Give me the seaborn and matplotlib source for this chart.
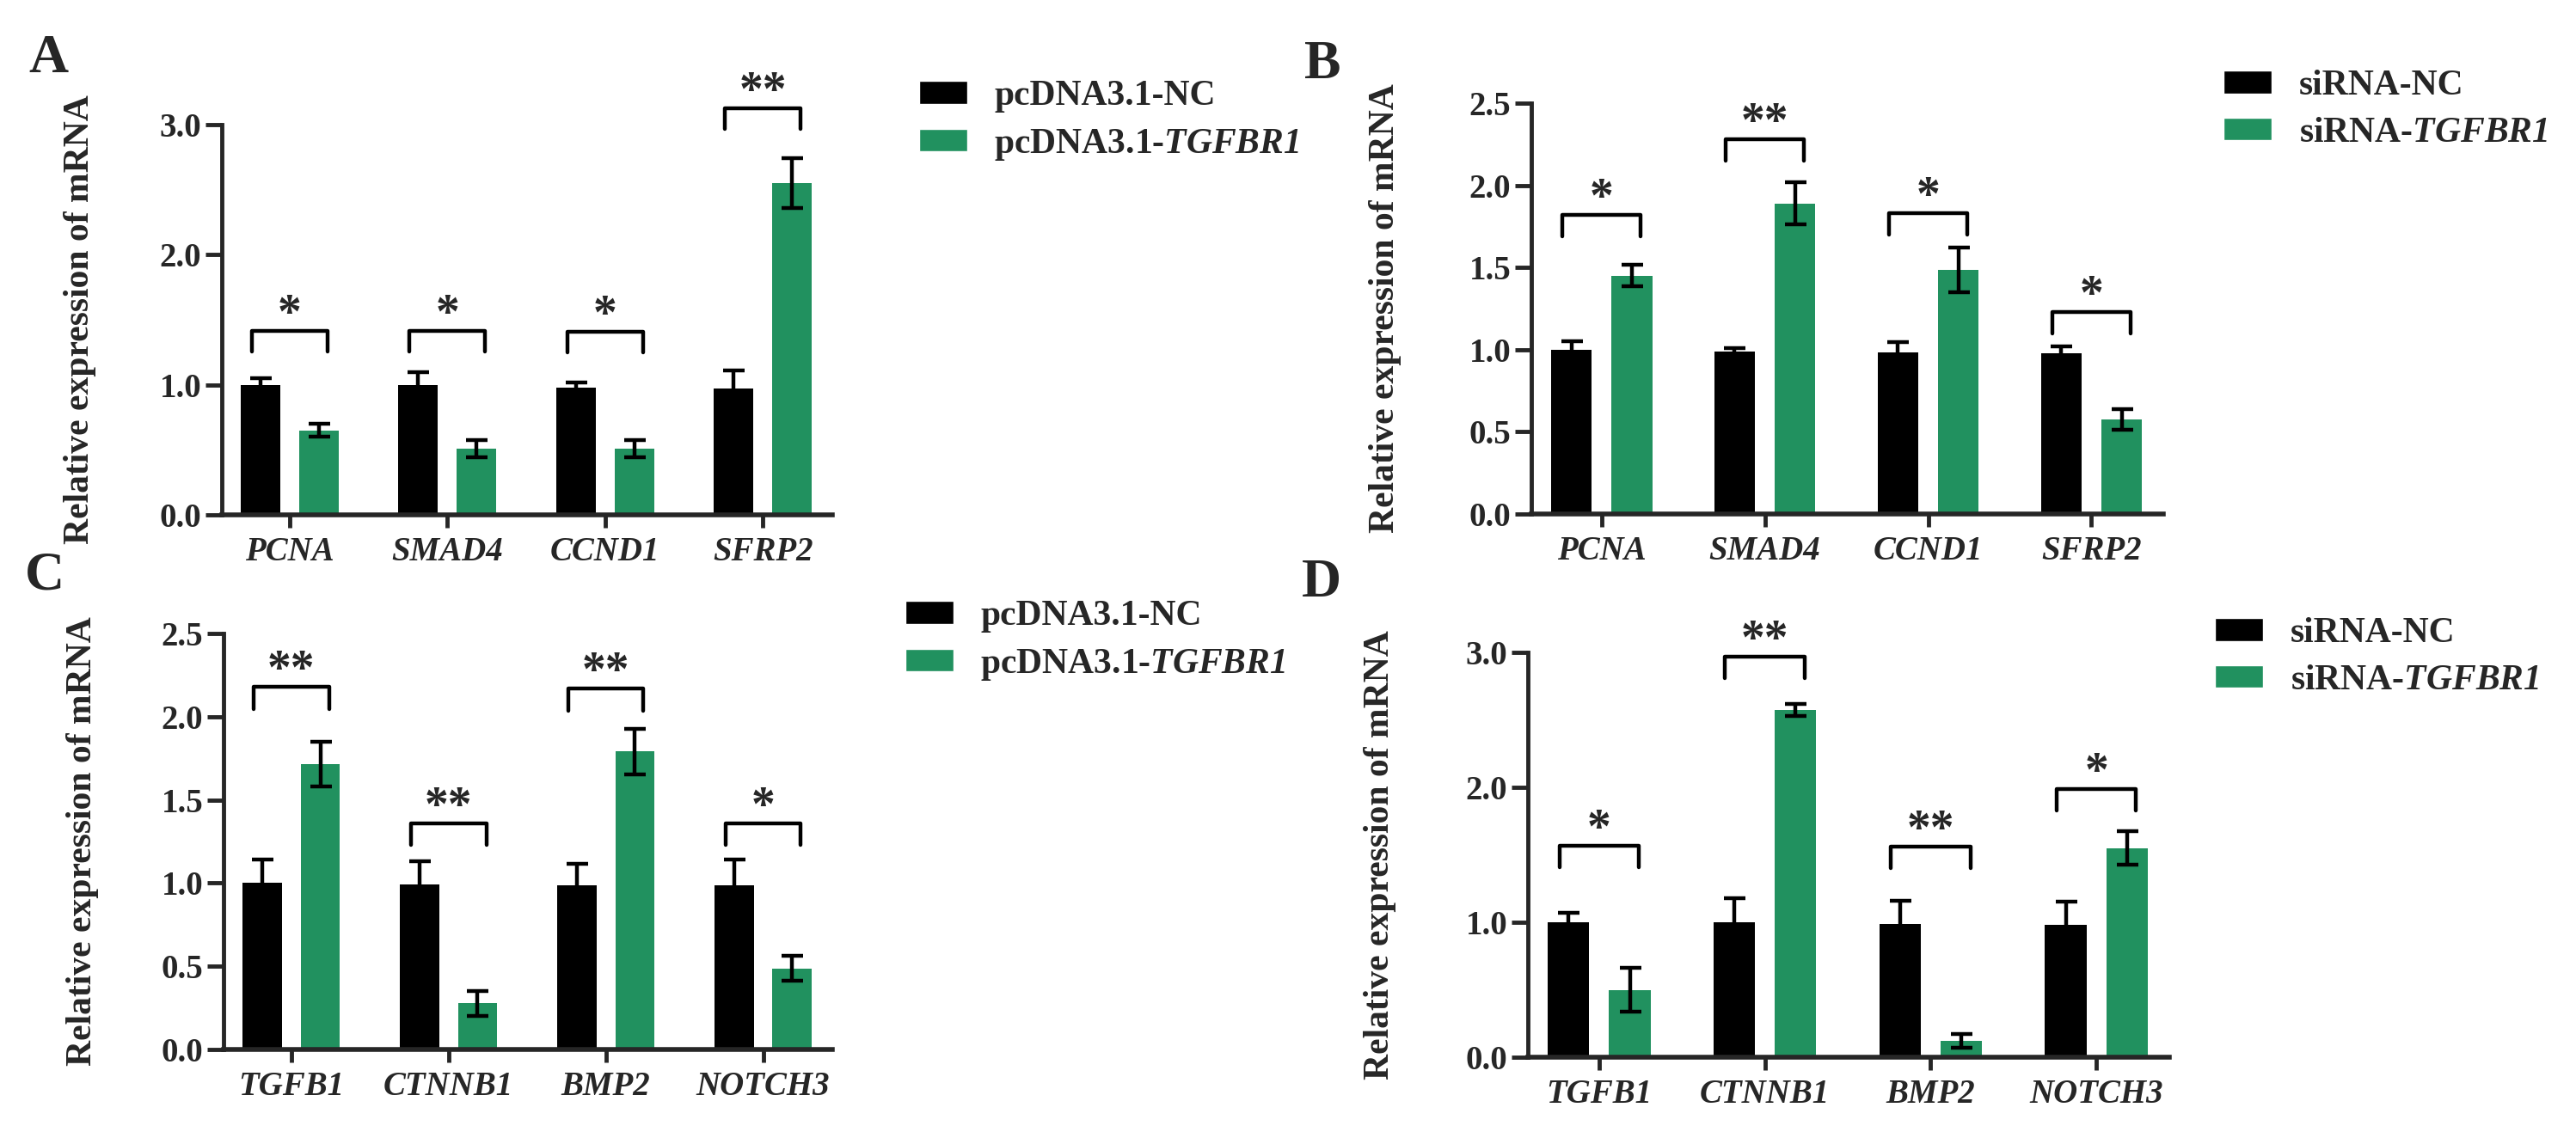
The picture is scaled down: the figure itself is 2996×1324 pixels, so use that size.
import numpy as np
import pandas as pd
import matplotlib
matplotlib.use("Agg")
import matplotlib.pyplot as plt
import seaborn as sns
from matplotlib.patches import Patch

# genes on the x axis
genes_ab = ["PCNA", "SMAD4", "CCND1", "SFRP2"]
genes_cd = ["TGFB1", "CTNNB1", "BMP2", "NOTCH3"]

# groups (hue)
groups_ac = ["pcDNA3.1-NC", "pcDNA3.1-TGFBR1"]
groups_bd = ["siRNA-NC", "siRNA-TGFBR1"]
legend_ac = ["pcDNA3.1-NC", r"pcDNA3.1-$\mathrm{TGFBR1}$"]
legend_bd = ["siRNA-NC", r"siRNA-$\mathrm{TGFBR1}$"]

# Panel A: overexpression, PCNA/SMAD4/CCND1/SFRP2
a_nc = [1.00, 1.00, 0.98, 0.97]
a_nc_err = [0.05, 0.10, 0.04, 0.14]
a_tg = [0.65, 0.51, 0.51, 2.55]
a_tg_err = [0.05, 0.065, 0.065, 0.19]
a_bracket = [1.415, 1.415, 1.405, 3.125]
a_stars = ["*", "*", "*", "**"]

# Panel B: knockdown, PCNA/SMAD4/CCND1/SFRP2
b_nc = [1.00, 0.99, 0.985, 0.98]
b_nc_err = [0.05, 0.02, 0.06, 0.04]
b_tg = [1.45, 1.89, 1.485, 0.575]
b_tg_err = [0.065, 0.13, 0.135, 0.065]
b_bracket = [1.82, 2.28, 1.83, 1.23]
b_stars = ["*", "**", "*", "*"]

# Panel C: overexpression, TGFB1/CTNNB1/BMP2/NOTCH3
c_nc = [1.00, 0.99, 0.985, 0.985]
c_nc_err = [0.14, 0.14, 0.13, 0.155]
c_tg = [1.715, 0.277, 1.79, 0.486]
c_tg_err = [0.135, 0.075, 0.135, 0.075]
c_bracket = [2.18, 1.36, 2.17, 1.36]
c_stars = ["**", "**", "**", "*"]

# Panel D: knockdown, TGFB1/CTNNB1/BMP2/NOTCH3
d_nc = [1.00, 1.00, 0.99, 0.98]
d_nc_err = [0.07, 0.18, 0.17, 0.175]
d_tg = [0.50, 2.575, 0.12, 1.55]
d_tg_err = [0.165, 0.045, 0.05, 0.125]
d_bracket = [1.566, 2.967, 1.56, 1.985]
d_stars = ["*", "**", "**", "*"]

GREEN = "#21915f"
W, H = 2996, 1324

sns.set_style("ticks")
plt.rcParams["font.family"] = ["Liberation Serif", "DejaVu Serif"]
plt.rcParams["font.weight"] = "bold"
# gene names inside $...$ come out bold italic
plt.rcParams["mathtext.fontset"] = "custom"
plt.rcParams["mathtext.rm"] = "Liberation Serif:italic:bold"
plt.rcParams["mathtext.it"] = "Liberation Serif:italic:bold"
plt.rcParams["mathtext.bf"] = "Liberation Serif:italic:bold"

panels = [
    dict(letter="A", genes=genes_ab, groups=groups_ac, legend=legend_ac,
         nc=a_nc, nc_err=a_nc_err, tg=a_tg, tg_err=a_tg_err,
         br=a_bracket, stars=a_stars, ymax=3.0, ystep=1.0,
         box=(258, 145, 968, 599), letter_xy=(33, 84), legend_xy=(1069, 93)),
    dict(letter="B", genes=genes_ab, groups=groups_bd, legend=legend_bd,
         nc=b_nc, nc_err=b_nc_err, tg=b_tg, tg_err=b_tg_err,
         br=b_bracket, stars=b_stars, ymax=2.5, ystep=0.5,
         box=(1781, 120, 2516, 598), letter_xy=(1517, 91), legend_xy=(2586, 81)),
    dict(letter="C", genes=genes_cd, groups=groups_ac, legend=legend_ac,
         nc=c_nc, nc_err=c_nc_err, tg=c_tg, tg_err=c_tg_err,
         br=c_bracket, stars=c_stars, ymax=2.5, ystep=0.5,
         box=(260, 737, 968, 1221), letter_xy=(29, 686), legend_xy=(1053, 698)),
    dict(letter="D", genes=genes_cd, groups=groups_bd, legend=legend_bd,
         nc=d_nc, nc_err=d_nc_err, tg=d_tg, tg_err=d_tg_err,
         br=d_bracket, stars=d_stars, ymax=3.0, ystep=1.0,
         box=(1777, 759, 2523, 1230), letter_xy=(1514, 694), legend_xy=(2576, 718)),
]

fig = plt.figure(figsize=(W / 100, H / 100), dpi=100)

for p in panels:
    x0, y0, x1, y1 = p["box"]
    ax = fig.add_axes([x0 / W, 1 - y1 / H, (x1 - x0) / W, (y1 - y0) / H])

    df = pd.DataFrame({
        "gene": p["genes"] * 2,
        "group": [p["groups"][0]] * 4 + [p["groups"][1]] * 4,
        "value": p["nc"] + p["tg"],
    })
    sns.barplot(data=df, x="gene", y="value", hue="group", hue_order=p["groups"],
                palette=["black", GREEN], saturation=1, width=0.74, gap=0.324,
                errorbar=None, legend=False, linewidth=0, ax=ax)

    # error bars on top of each bar
    for cont, err in zip(ax.containers, [p["nc_err"], p["tg_err"]]):
        xs = [b.get_x() + b.get_width() / 2 for b in cont]
        ys = [b.get_height() for b in cont]
        ax.errorbar(xs, ys, yerr=err, fmt="none", ecolor="black",
                    elinewidth=3.2, capsize=9, capthick=3.2, zorder=3)

    # significance brackets
    leg = 0.053 * p["ymax"]
    for i, (yb, s) in enumerate(zip(p["br"], p["stars"])):
        bx0, bx1 = i - 0.24, i + 0.24
        ax.plot([bx0, bx0, bx1, bx1], [yb - leg, yb, yb, yb - leg],
                color="black", lw=3.2, clip_on=False)
        ax.annotate(s, xy=(i, yb), xytext=(0, 3), textcoords="offset points",
                    ha="center", va="baseline", fontsize=40, fontweight="bold",
                    annotation_clip=False)

    ax.set_xlim(-0.43, 3.44)
    ax.set_ylim(0, p["ymax"])
    ax.set_yticks(np.arange(0, p["ymax"] + 0.01, p["ystep"]))
    ax.yaxis.set_major_formatter("{x:.1f}")
    sns.despine(ax=ax)
    ax.spines["left"].set_linewidth(3.5)
    ax.spines["bottom"].set_linewidth(4)
    ax.tick_params(axis="y", width=3.5, length=14, pad=3, labelsize=28)
    ax.tick_params(axis="x", width=3.5, length=11, pad=7, labelsize=28)
    for lab in ax.get_xticklabels():
        lab.set_fontstyle("italic")
        lab.set_fontweight("bold")
    for lab in ax.get_yticklabels():
        lab.set_fontweight("bold")
    ax.set_xlabel("")
    ax.set_ylabel("Relative expression of mRNA", fontsize=30, fontweight="bold")
    ax.yaxis.set_label_coords(-0.205, 0.5)

    lx, ly = p["letter_xy"]
    fig.text(lx / W, 1 - ly / H, p["letter"], ha="left", va="baseline",
             fontsize=46, fontweight="bold")

    gx, gy = p["legend_xy"]
    handles = [Patch(facecolor="black"), Patch(facecolor=GREEN)]
    fig.legend(handles, p["legend"], loc="upper left",
               bbox_to_anchor=(gx / W, 1 - gy / H), frameon=False,
               prop={"weight": "bold", "size": 30}, handlelength=1.35,
               handleheight=0.6, handletextpad=0.75, labelspacing=0.4,
               borderpad=0, borderaxespad=0)

fig.savefig("out.png", dpi=100)
